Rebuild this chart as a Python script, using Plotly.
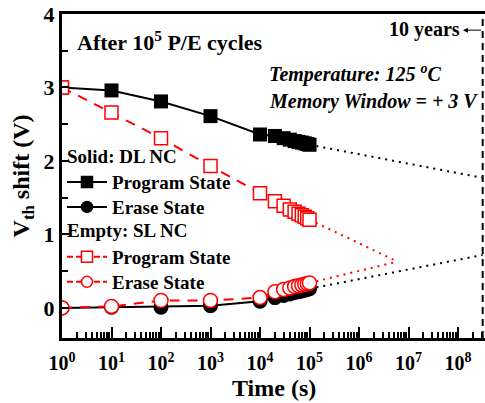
import numpy as np
import plotly.graph_objects as go

# ---------------- data ----------------
t_meas = [1, 10, 100, 1000, 1e4, 2e4, 3e4, 4e4, 5e4, 6e4, 7e4, 8e4, 9e4, 1e5]
dl_program = [3.00, 2.96, 2.81, 2.61, 2.36, 2.34, 2.31, 2.29, 2.27, 2.26, 2.25, 2.24, 2.23, 2.22]
dl_erase = [0.00, 0.01, 0.01, 0.03, 0.09, 0.14, 0.17, 0.19, 0.21, 0.22, 0.23, 0.24, 0.25, 0.26]
sl_program = [3.00, 2.66, 2.31, 1.93, 1.56, 1.45, 1.39, 1.34, 1.31, 1.28, 1.26, 1.24, 1.22, 1.20]
sl_erase = [0.00, 0.02, 0.10, 0.10, 0.14, 0.22, 0.25, 0.27, 0.29, 0.30, 0.31, 0.32, 0.33, 0.34]

ten_years = 3.15e8
t_ext_dl = [1e5, ten_years]
dl_program_ext = [2.22, 1.77]
dl_erase_ext = [0.26, 0.72]
t_ext_sl = [1e5, 6.0e6]
sl_program_ext = [1.20, 0.63]
sl_erase_ext = [0.34, 0.63]

x_tickvals = [10 ** k for k in range(0, 9)]
x_ticktext = [f"10<sup>{k}</sup>" for k in range(0, 9)]
y_tickvals = [0, 1, 2, 3, 4]

FONT = "Liberation Serif"
RED = "#ff0000"

fig = go.Figure()

# extrapolation dotted lines
for tx, ty, col in [(t_ext_dl, dl_program_ext, "black"), (t_ext_dl, dl_erase_ext, "black"),
                    (t_ext_sl, sl_program_ext, RED), (t_ext_sl, sl_erase_ext, RED)]:
    fig.add_trace(go.Scatter(x=tx, y=ty, mode="lines", showlegend=False,
                             line=dict(color=col, width=2, dash="2px,5px")))

# 10 years dashed vertical line
fig.add_trace(go.Scatter(x=[ten_years, ten_years], y=[-0.41, 4.0], mode="lines", showlegend=False,
                         line=dict(color="black", width=2, dash="7px,5px")))

# measured data
fig.add_trace(go.Scatter(x=t_meas, y=dl_program, mode="lines+markers", showlegend=False,
                         line=dict(color="black", width=2),
                         marker=dict(symbol="square", size=14, color="black")))
fig.add_trace(go.Scatter(x=t_meas, y=dl_erase, mode="lines+markers", showlegend=False,
                         line=dict(color="black", width=2),
                         marker=dict(symbol="circle", size=15, color="black")))
fig.add_trace(go.Scatter(x=t_meas, y=sl_program, mode="lines+markers", showlegend=False,
                         line=dict(color=RED, width=2, dash="10px,8px"),
                         marker=dict(symbol="square", size=13, color="white",
                                     line=dict(color=RED, width=1.5))))
fig.add_trace(go.Scatter(x=t_meas, y=sl_erase, mode="lines+markers", showlegend=False,
                         line=dict(color=RED, width=2, dash="10px,8px"),
                         marker=dict(symbol="circle", size=14, color="white",
                                     line=dict(color=RED, width=1.5))))

# legend entries: one small legend per entry so the spacing matches
leg = [
    ("legend", 0.481, "Program State", "black", "square", "black", "solid"),
    ("legend2", 0.404, "Erase State", "black", "circle", "black", "solid"),
    ("legend3", 0.250, "Program State", RED, "square", "white", "6px,3px"),
    ("legend4", 0.173, "Erase State", RED, "circle", "white", "6px,3px"),
]
legend_layout = {}
for lname, ly, name, col, sym, fill, dash in leg:
    fig.add_trace(go.Scatter(x=[None], y=[None], mode="lines+markers", name=name,
                             legend=lname,
                             line=dict(color=col, width=2, dash=dash),
                             marker=dict(symbol=sym, size=11, color=fill,
                                         line=dict(color=col, width=1.5))))
    legend_layout[lname] = dict(x=0.0, y=ly, xanchor="left", yanchor="middle",
                                bgcolor="rgba(0,0,0,0)", borderwidth=0,
                                font=dict(family=FONT, size=19, color="black", weight="bold"),
                                itemwidth=40)

minor_x = [m * 10 ** k for k in range(0, 9) for m in range(2, 10)]

fig.update_layout(
    width=485, height=403,
    margin=dict(l=62, r=0, t=14, b=65),
    paper_bgcolor="white", plot_bgcolor="white",
    font=dict(family=FONT, size=20, color="black", weight="bold"),
    showlegend=True,
    xaxis=dict(type="log", range=[0, 8.545], showgrid=False, zeroline=False,
               showline=True, linecolor="black", linewidth=3, mirror=True,
               tickmode="array", tickvals=x_tickvals, ticktext=x_ticktext,
               ticks="inside", ticklen=11, tickwidth=2, tickcolor="black",
               ticklabelstandoff=5,
               tickfont=dict(family=FONT, size=20, color="black", weight="bold"),
               minor=dict(tickmode="array", tickvals=minor_x, ticks="inside", ticklen=6,
                          tickwidth=1.5, tickcolor="black", showgrid=False)),
    yaxis=dict(range=[-0.41, 4.0], showgrid=False, zeroline=False,
               showline=True, linecolor="black", linewidth=3,
               tickmode="array", tickvals=y_tickvals,
               ticks="inside", ticklen=7, tickwidth=2, tickcolor="black",
               tickfont=dict(family=FONT, size=22, color="black", weight="bold"),
               minor=dict(dtick=0.5, ticks="inside", ticklen=6, tickwidth=2, tickcolor="black", showgrid=False),
               title=dict(text="V<sub>th</sub> shift (V)", font=dict(family=FONT, size=24, color="black", weight="bold"),
                          standoff=8)),
    **legend_layout,
)

# x-axis title
fig.add_annotation(x=0.5, y=-0.153, xref="paper", yref="paper", xanchor="center", yanchor="middle",
                   text="Time (s)", showarrow=False,
                   font=dict(family=FONT, size=24, color="black", weight="bold"))
fig.add_annotation(x=0.008, y=0.559, xref="paper", yref="paper", xanchor="left", yanchor="middle",
                   text="Solid: DL NC", showarrow=False,
                   font=dict(family=FONT, size=19, color="black", weight="bold"))
fig.add_annotation(x=0.008, y=0.333, xref="paper", yref="paper", xanchor="left", yanchor="middle",
                   text="Empty: SL NC", showarrow=False,
                   font=dict(family=FONT, size=19, color="black", weight="bold"))
fig.add_annotation(x=0.03, y=0.918, xref="paper", yref="paper", xanchor="left", yanchor="middle",
                   text="After 10<sup>5</sup> P/E cycles", showarrow=False,
                   font=dict(family=FONT, size=22, color="black", weight="bold"))
fig.add_annotation(x=0.484, y=0.815, xref="paper", yref="paper", xanchor="left", yanchor="middle",
                   text="<i>Temperature: 125 <sup>o</sup>C</i>", showarrow=False,
                   font=dict(family=FONT, size=20, color="black", weight="bold"))
fig.add_annotation(x=0.484, y=0.73, xref="paper", yref="paper", xanchor="left", yanchor="middle",
                   text="<i>Memory Window = + 3 V</i>", showarrow=False,
                   font=dict(family=FONT, size=20, color="black", weight="bold"))
fig.add_annotation(x=0.945, y=0.952, xref="paper", yref="paper", xanchor="right", yanchor="middle",
                   text="10 years", showarrow=False,
                   font=dict(family=FONT, size=20, color="black", weight="bold"))
fig.add_annotation(x=8.10, y=3.78, xref="x", yref="y", ax=np.log10(ten_years), ay=3.78,
                   axref="x", ayref="y", text="", showarrow=True,
                   arrowhead=2, arrowsize=1, arrowwidth=1, arrowcolor="black")

fig.write_html("out.html")
